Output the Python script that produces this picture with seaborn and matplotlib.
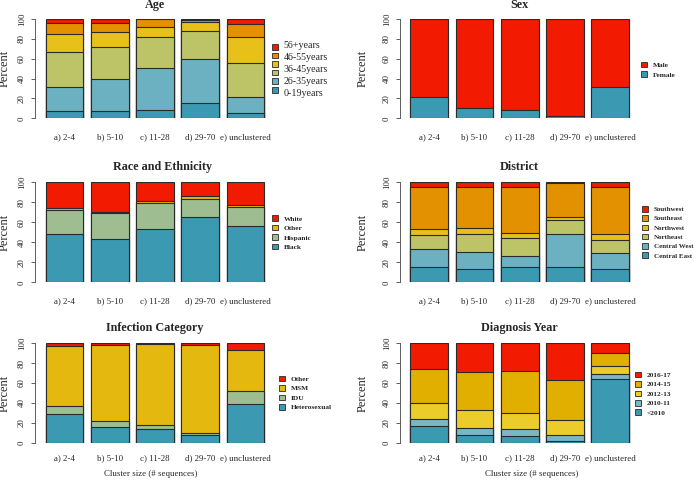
import numpy as np
import pandas as pd
import matplotlib
matplotlib.use('Agg')
import matplotlib.pyplot as plt
import seaborn as sns
from matplotlib.patches import Patch

sns.set_theme(style='white')
plt.rcParams['font.family'] = ['Liberation Serif', 'DejaVu Serif']

# ---------------- data ----------------
clusters = ['a) 2-4', 'b) 5-10', 'c) 11-28', 'd) 29-70', 'e) unclustered']

# Age (segments bottom -> top)
age_s1 = [7.0, 7.0, 8.7, 15.1, 5.5]
age_s2 = [24.2, 32.3, 41.6, 44.3, 15.6]
age_s3 = [35.2, 32.2, 31.9, 28.9, 34.3]
age_s4 = [18.2, 15.1, 9.4, 8.7, 26.1]
age_s5 = [11.7, 9.0, 8.1, 1.7, 13.1]
age_s6 = [3.7, 4.4, 0.3, 1.3, 5.4]
age_labels = ['56+years', '46-55years', '36-45years', '26-35years', '0-19years']

# Sex
sex_female = [21.0, 10.7, 8.7, 2.7, 32.0]
sex_male = [79.0, 89.3, 91.3, 97.3, 68.0]
sex_labels = ['Male', 'Female']

# Race and Ethnicity
race_black = [48.0, 43.0, 53.0, 65.0, 56.0]
race_hispanic = [24.0, 26.0, 26.0, 18.0, 19.7]
race_other = [2.3, 1.7, 2.7, 3.3, 1.3]
race_white = [25.7, 29.3, 18.3, 13.7, 23.0]
race_labels = ['White', 'Other', 'Hispanic', 'Black']

# District
dist_central_east = [15.7, 13.3, 15.0, 15.0, 13.0]
dist_central_west = [17.3, 16.7, 11.3, 33.0, 16.3]
dist_northeast = [14.0, 18.0, 18.0, 14.3, 13.0]
dist_northwest = [6.0, 6.7, 4.7, 2.7, 5.7]
dist_southeast = [42.7, 40.3, 46.7, 34.0, 47.7]
dist_southwest = [4.3, 5.0, 4.3, 1.0, 4.3]
dist_labels = ['Southwest', 'Southeast', 'Northwest', 'Northeast', 'Central West', 'Central East']

# Infection category
inf_hetero = [28.5, 15.4, 13.4, 8.0, 38.6]
inf_idu = [8.7, 6.1, 4.0, 1.4, 13.7]
inf_msm = [60.1, 76.5, 81.6, 88.9, 41.3]
inf_other = [2.7, 2.0, 1.0, 1.7, 6.4]
inf_labels = ['Other', 'MSM', 'IDU', 'Heterosexual']

# Diagnosis year
dx_pre2010 = [17.3, 7.7, 6.7, 1.7, 64.3]
dx_2010_11 = [7.0, 6.6, 6.6, 6.0, 5.0]
dx_2012_13 = [16.0, 18.4, 17.0, 15.6, 8.0]
dx_2014_15 = [33.7, 38.0, 41.7, 39.7, 12.7]
dx_2016_17 = [26.0, 29.3, 28.0, 37.0, 10.0]
dx_labels = ['2016-17', '2014-15', '2012-13', '2010-11', '<2010']

yticks = [0, 20, 40, 60, 80, 100]
xlabel_text = 'Cluster size (# sequences)'

# ---------------- colours ----------------
Z5 = ['#3B9AB2', '#78B7C5', '#EBCC2A', '#E1AF00', '#F21A00']
Z6 = ['#3B9AB2', '#6CB1C1', '#BDC468', '#E7C019', '#E49100', '#F21A00']
Z4 = ['#3B9AB2', '#9EBE91', '#E4B80E', '#F21A00']
Z2 = ['#3B9AB2', '#F21A00']
EDGE = '#2a2a2a'

W, H = 696, 480
fig = plt.figure(figsize=(W / 100, H / 100), dpi=100)


def add_ax(left, top, width, bottom):
    return fig.add_axes([left / W, 1 - bottom / H, width / W, (bottom - top) / H])


panels = [
    dict(pos=(35, 19, 240, 118.3), title='Age', segs=[age_s1, age_s2, age_s3, age_s4, age_s5, age_s6],
         colors=Z6, labels=None, leg=(0.9875, 0.50), tpad=7.8, xpad=10.4, ylx=-0.101, tx=0.5, lfs=5.3),
    dict(pos=(399.7, 19, 240, 118.3), title='Sex', segs=[sex_female, sex_male],
         colors=Z2, labels=sex_labels, leg=(1.005, 0.49), tpad=7.8, xpad=10.4, ylx=-0.129, tx=0.5, lfs=5.3),
    dict(pos=(35, 182.3, 240, 282.3), title='Race and Ethnicity',
         segs=[race_black, race_hispanic, race_other, race_white],
         colors=Z4, labels=race_labels, leg=(0.986, 0.496), tpad=9.0, xpad=10.4, ylx=-0.101, tx=0.53, lfs=5.3),
    dict(pos=(399.7, 182.3, 240, 282.3), title='District',
         segs=[dist_central_east, dist_central_west, dist_northeast, dist_northwest, dist_southeast, dist_southwest],
         colors=Z6, labels=dist_labels, leg=(1.01, 0.50), tpad=9.0, xpad=10.4, ylx=-0.129, tx=0.5, lfs=5.0),
    dict(pos=(35, 343.3, 240, 442.7), title='Infection Category',
         segs=[inf_hetero, inf_idu, inf_msm, inf_other],
         colors=Z4, labels=inf_labels, leg=(1.018, 0.50), tpad=8.8, xpad=8.1, ylx=-0.101, tx=0.5, lfs=5.3),
    dict(pos=(399.7, 343.3, 240, 442.7), title='Diagnosis Year',
         segs=[dx_pre2010, dx_2010_11, dx_2012_13, dx_2014_15, dx_2016_17],
         colors=Z5, labels=dx_labels, leg=(0.98, 0.493), tpad=8.8, xpad=8.1, ylx=-0.129, tx=0.5, lfs=5.3),
]

for p in panels:
    l, t, w, b = p['pos']
    ax = add_ax(l, t, w, b)
    segs = np.array(p['segs'], dtype=float)
    cum = np.cumsum(segs, axis=0)
    n = len(segs)
    for i in reversed(range(n)):
        df = pd.DataFrame({'cluster': clusters, 'value': cum[i]})
        sns.barplot(data=df, x='cluster', y='value', order=clusters, color=p['colors'][i],
                    saturation=1, width=0.8333, edgecolor=EDGE, linewidth=0.8,
                    errorbar=None, ax=ax)
    ax.set_xlim(-0.653, 4.653)
    ax.set_ylim(0, 100)
    ax.set_xlabel('')
    ax.set_ylabel('Percent', fontsize=8.9)
    ax.yaxis.set_label_coords(p['ylx'], 0.5)
    ax.set_yticks(yticks)
    ax.set_yticklabels([str(v) for v in yticks], rotation=90, va='center', fontsize=6.4)
    ax.tick_params(axis='y', length=2.6, width=0.6, color='#444444', pad=3.8, left=True)
    ax.tick_params(axis='x', length=0, pad=p['xpad'], labelsize=6.4)
    for s in ['top', 'right', 'bottom']:
        ax.spines[s].set_visible(False)
    ax.spines['left'].set_color('#444444')
    ax.spines['left'].set_linewidth(0.6)
    ax.set_facecolor('white')
    ax.set_title(p['title'], fontsize=8.7, fontweight='bold', pad=p['tpad'], x=p['tx'])

    # legend (top entry = top segment)
    handles = [Patch(facecolor=c, edgecolor=EDGE, linewidth=0.6) for c in reversed(p['colors'])]
    if p['labels'] is None:
        ax.legend(handles, [''] * len(handles), loc='center left', bbox_to_anchor=p['leg'],
                  frameon=False, fontsize=5.3, handlelength=0.8, handleheight=0.8,
                  handletextpad=0.0, labelspacing=0.3, borderpad=0, borderaxespad=0)
        ys = np.linspace(0.731, 0.248, len(age_labels))
        for lab, yy in zip(age_labels, ys):
            ax.text(1.035, yy, lab, transform=ax.transAxes, fontsize=7.2, va='center', ha='left')
    else:
        sc = 5.3 / p['lfs']
        ax.legend(handles, p['labels'], loc='center left', bbox_to_anchor=p['leg'],
                  frameon=False, prop={'size': p['lfs'], 'weight': 'bold'}, handlelength=0.8 * sc,
                  handleheight=0.8 * sc, handletextpad=0.8 * sc, labelspacing=0.42 * sc, borderpad=0,
                  borderaxespad=0)

fig.text(151 / W, 1 - 474 / H, xlabel_text, ha='center', va='center', fontsize=6.4)
fig.text(531.5 / W, 1 - 474 / H, xlabel_text, ha='center', va='center', fontsize=6.4)

fig.savefig('out.png', dpi=100, facecolor='white')
